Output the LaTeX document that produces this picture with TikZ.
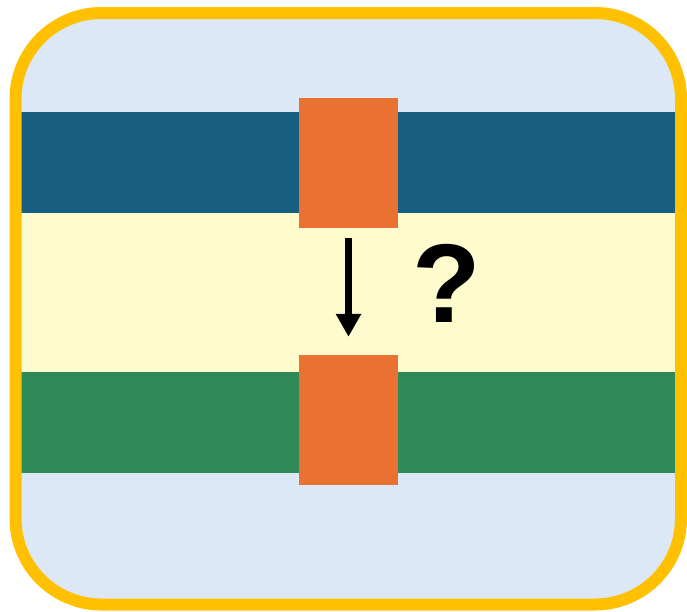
\documentclass[tikz,border=0pt]{standalone}
\usepackage{fontspec}
\usepackage{xcolor}
\usepackage{tikz}
\usetikzlibrary{arrows.meta, positioning, calc}
\newfontfamily\qfont{Liberation Sans}
\definecolor{frameyellow}{RGB}{255,192,0}
\definecolor{skyblue}{RGB}{220,232,245}
\definecolor{layerblue}{RGB}{23,94,128}
\definecolor{layergreen}{RGB}{46,139,87}
\definecolor{paleyellow}{RGB}{254,252,204}
\definecolor{blockorange}{RGB}{233,114,50}
\tikzset{
  band/.style={draw=none, inner sep=0pt, minimum width=656pt, minimum height=101pt},
  gap/.style={draw=none, fill=paleyellow, inner sep=0pt, minimum width=656pt, minimum height=159pt},
  blk/.style={draw=none, fill=blockorange, inner sep=0pt, minimum width=99pt, minimum height=130pt},
  move/.style={-{Triangle[length=23pt, width=24pt]}, line width=7pt, black},
  qm/.style={font=\qfont\bfseries\fontsize{112}{112}\selectfont, inner sep=0pt}
}
\begin{document}
\begin{tikzpicture}[x=1pt, y=-1pt]
  \useasboundingbox (0,0) rectangle (687,611);
  % background
  \fill[skyblue, rounded corners=86pt] (15.5,13) rectangle (681,604.5);
  % layers
  \node[band, fill=layerblue] (top) at (349,162.5) {};
  \node[gap] (mid) at (349,292.5) {};
  \node[band, fill=layergreen] (bot) at (349,422.5) {};
  % blocks
  \node[blk] (upper) at (348.5,163) {};
  \node[blk] (lower) at (348.5,420) {};
  \draw[move, shorten <=10pt, shorten >=18pt] (upper.south) -- (lower.north);
  \node[qm] (ask) at (447,283) {?};
  % frame
  \draw[frameyellow, line width=12pt, rounded corners=86pt] (15.5,13) rectangle (681,604.5);
\end{tikzpicture}
\end{document}
